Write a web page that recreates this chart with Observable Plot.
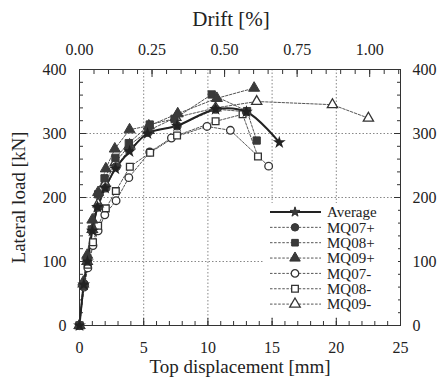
<!DOCTYPE html>
<html><head><meta charset="utf-8">
<script src="https://cdn.jsdelivr.net/npm/d3@7"></script>
<script src="https://cdn.jsdelivr.net/npm/@observablehq/plot@0.6"></script>
<style>
body{margin:0;background:#fff;}
#chart{position:relative;width:443px;height:383px;}
#chart svg, #chart svg text{font-family:"Liberation Serif","Times New Roman",Times,serif;}
</style>
</head><body><div id="chart"></div>
<script>
// ---- data (top displacement [mm], lateral load [kN]) ----
const seriesNames = ["Average","MQ07+","MQ08+","MQ09+","MQ07-","MQ08-","MQ09-"];
const seriesSymbols = ["star","circle","square","triangle","circle","square","triangle"];
const seriesFilled = [true,true,true,true,false,false,false];

const average = [[0,0],[0.33,64],[0.62,100],[1.0,148],[1.4,185],[2.0,215],[2.8,245],[3.9,272],[5.3,300],[7.6,312],[10.6,338],[13.0,334],[15.56,286]];
const mq07p = [[0,0],[0.35,65],[0.6,105],[1.0,150],[1.45,185],[2.05,215],[2.85,248],[3.85,275],[5.35,302],[7.6,312],[10.6,338],[13.0,334]];
const mq08p = [[0,0],[0.3,62],[0.6,100],[0.95,150],[1.45,205],[1.95,230],[2.8,262],[3.84,285],[5.47,314],[7.4,323],[10.3,361],[13.05,335],[13.8,289]];
const mq09p = [[0,0],[0.3,68],[0.6,110],[1.0,165],[1.45,208],[2.05,245],[2.75,276],[3.9,306],[5.4,312],[7.65,331],[10.7,355],[13.6,371]];
const mq07n = [[0,0],[0.35,60],[0.65,90],[1.05,125],[1.45,148],[1.97,173],[2.85,195],[3.84,231],[5.47,271],[7.16,293],[9.93,311],[11.75,305],[14.73,249]];
const mq08n = [[0,0],[0.35,62],[0.65,95],[1.05,130],[1.45,156],[2.05,183],[2.83,210],[3.92,248],[5.5,270],[7.6,297],[10.6,319],[12.7,330],[13.9,264]];
const mq09n = [[0,0],[0.3,65],[0.6,100],[1.0,150],[1.45,190],[2.0,222],[2.8,255],[3.9,282],[5.4,305],[7.5,325],[10.6,340],[13.8,350],[19.7,345],[22.5,324]];
const seriesData = [average,mq07p,mq08p,mq09p,mq07n,mq08n,mq09n];

const xTicks = [0,5,10,15,20,25];
const yTicks = [0,100,200,300,400];
const driftTicks = [0,0.25,0.5,0.75,1.0];
const mmPerDriftPct = 22.6;

// ---- build rows ----
const rows = [];
seriesData.forEach((pts,i) => pts.forEach(([x,y]) => rows.push({series:seriesNames[i], x, y, filled:seriesFilled[i], symbol:seriesSymbols[i]})));
const avgRows = rows.filter(d => d.series === "Average");
const specRows = rows.filter(d => d.series !== "Average");

const font = "Liberation Serif, Times New Roman, Times, serif";
const ink = "#333";
const W = 443, H = 383;
const mL = 79, mR = 43, mT = 69, mB = 58;

const minorX = d3.range(0, 25.01, 1);
const minorY = d3.range(0, 400.01, 20);
const minorDrift = d3.range(0, 1.101, 0.05).map(d => d*mmPerDriftPct).filter(v => v <= 25);

const plot = Plot.plot({
  width: W, height: H,
  marginLeft: mL, marginRight: mR, marginTop: mT, marginBottom: mB,
  style: {fontFamily: font, fontSize: "15px", color: "#222", background: "#fff"},
  x: {domain: [0,25]},
  y: {domain: [0,400]},
  symbol: {domain: seriesNames, range: seriesSymbols},
  marks: [
    Plot.gridX(xTicks.slice(1,-1), {stroke:"#888", strokeOpacity:1, strokeDasharray:"1.5,2"}),
    Plot.gridY(yTicks.slice(1,-1), {stroke:"#888", strokeOpacity:1, strokeDasharray:"1.5,2"}),
    // minor ticks
    Plot.axisX({anchor:"bottom", ticks:minorX, tickSize:-4, tickFormat:()=>"", label:null, stroke:ink}),
    Plot.axisX({anchor:"top", ticks:minorDrift, tickSize:-4, tickFormat:()=>"", label:null, stroke:ink}),
    Plot.axisY({anchor:"left", ticks:minorY, tickSize:-4, tickFormat:()=>"", label:null, stroke:ink}),
    Plot.axisY({anchor:"right", ticks:minorY, tickSize:-4, tickFormat:()=>"", label:null, stroke:ink}),
    // major ticks
    Plot.axisX({anchor:"bottom", ticks:xTicks, tickSize:-7, tickFormat:()=>"", label:null, stroke:ink}),
    Plot.axisX({anchor:"top", ticks:driftTicks.map(d=>d*mmPerDriftPct), tickSize:-7, tickFormat:()=>"", label:null, stroke:ink}),
    Plot.axisY({anchor:"left", ticks:yTicks, tickSize:-7, tickFormat:()=>"", label:null, stroke:ink}),
    Plot.axisY({anchor:"right", ticks:yTicks, tickSize:-7, tickFormat:()=>"", label:null, stroke:ink}),
    // labels
    Plot.axisX({anchor:"bottom", ticks:xTicks, tickSize:0, tickPadding:16, fontSize:16, label:null}),
    Plot.axisX({anchor:"top", ticks:driftTicks.map(d=>d*mmPerDriftPct), tickFormat:d=>(d/mmPerDriftPct).toFixed(2),
      tickSize:0, tickPadding:15, fontSize:16, label:null}),
    Plot.axisY({anchor:"left", ticks:yTicks, tickSize:0, tickPadding:13, fontSize:16, label:null}),
    Plot.axisY({anchor:"right", ticks:yTicks, tickSize:0, tickPadding:12, fontSize:16, label:null}),
    Plot.axisX({anchor:"bottom", ticks:[], tickSize:0, fontSize:19,
      label:"Top displacement [mm]", labelAnchor:"center", labelArrow:"none", labelOffset:47}),
    Plot.text(["Drift [%]"], {frameAnchor:"top", dx:-9, dy:-50, fontSize:21, lineAnchor:"middle", fill:"#222"}),
    Plot.axisY({anchor:"left", ticks:[], tickSize:0, fontSize:19,
      label:"Lateral load [kN]", labelAnchor:"center", labelArrow:"none", labelOffset:68}),
    Plot.frame({stroke:ink, strokeWidth:1}),
    // curves
    Plot.line(specRows, {x:"x", y:"y", z:"series", stroke:"#555", strokeWidth:1, strokeDasharray:"2.5,1.6"}),
    Plot.line(avgRows, {x:"x", y:"y", stroke:"#222", strokeWidth:2, curve:"catmull-rom"}),
    Plot.dot(specRows.filter(d=>!d.filled), {x:"x", y:"y", symbol:"series", r:3.8, fill:"#fff", stroke:"#333", strokeWidth:1.3}),
    Plot.dot(specRows.filter(d=>d.filled), {x:"x", y:"y", symbol:"series", r:4.1, fill:"#3a3a3a", stroke:"#3a3a3a", strokeWidth:1}),
    Plot.dot(avgRows, {x:"x", y:"y", symbol:"series", r:2.6, fill:"#222", stroke:"#222"})
  ]
});
document.getElementById("chart").appendChild(plot);

// ---- legend (inside the frame, lower right) ----
const svg = d3.select(plot);
const lg = svg.append("g").attr("font-family", font).attr("font-size", 15).attr("fill", "#222").attr("text-anchor", "start");
lg.append("rect").attr("x", 263).attr("y", 203).attr("width", 135).attr("height", 114).attr("fill", "#fff");
const symGen = name => d3.symbol().type({star:d3.symbolStar, circle:d3.symbolCircle, square:d3.symbolSquare, triangle:d3.symbolTriangle}[name]);
seriesNames.forEach((name, i) => {
  const y = 212 + i*15.35;
  const isAvg = i === 0;
  lg.append("line").attr("x1", 270).attr("x2", 321).attr("y1", y).attr("y2", y)
    .attr("stroke", isAvg ? "#222" : "#555").attr("stroke-width", isAvg ? 2 : 1)
    .attr("stroke-dasharray", isAvg ? null : "2.5,1.6");
  const size = seriesSymbols[i] === "star" ? 30 : seriesSymbols[i] === "triangle" ? 48 : 44;
  lg.append("path").attr("d", symGen(seriesSymbols[i]).size(size)())
    .attr("transform", `translate(295,${y})`)
    .attr("fill", seriesFilled[i] ? "#3a3a3a" : "#fff").attr("stroke", "#333").attr("stroke-width", seriesFilled[i] ? 1 : 1.3);
  lg.append("text").attr("x", 327).attr("y", y).attr("dy", "0.35em")
    .attr("text-anchor", "start").text(name);
});
</script>
</body></html>
